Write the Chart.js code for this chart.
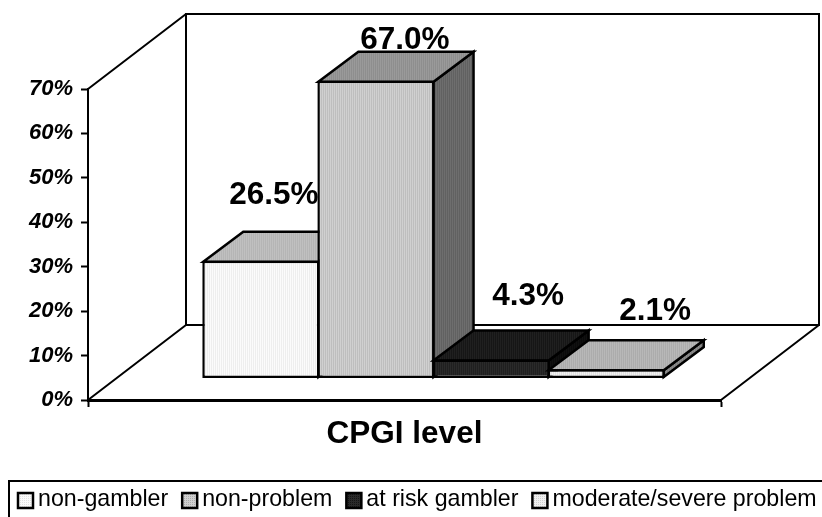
<!DOCTYPE html>
<html>
<head>
<meta charset="utf-8">
<title>CPGI level</title>
<script src="https://cdn.jsdelivr.net/npm/chart.js@4/dist/chart.umd.min.js"></script>
<style>
  html, body { margin: 0; padding: 0; background: #fff; overflow: hidden; }
  canvas { display: block; }
</style>
</head>
<body>
<canvas id="chart" width="822" height="517"></canvas>
<script>
const categories = ['CPGI level'];
const seriesNames = ['non-gambler', 'non-problem', 'at risk gambler', 'moderate/severe problem'];
const seriesValues = [26.5, 67.0, 4.3, 2.1];

// front / top / side shades of each column, [base, dither dot]
const frontShades = [['#fbfbfb', '#e2e2e2'], ['#d0d0d0', '#acacac'], ['#2a2a2a', '#141414'], ['#f0f0f0', '#d0d0d0']];
const topShades = [['#c0c0c0', '#aaaaaa'], ['#9a9a9a', '#828282'], ['#202020', '#0c0c0c'], ['#b8b8b8', '#a0a0a0']];
const sideShades = [['#6e6e6e', '#545454'], ['#6e6e6e', '#545454'], ['#101010', '#040404'], ['#8c8c8c', '#707070']];
// hand moved data labels in the original, px from the top centre of the column
const labelNudge = [[13, -65], [29, -41], [37, -63], [49, -58]];

const FONT = '"Liberation Sans", Arial, sans-serif';
const WALL = { x: 98, y: -75 };   // back wall offset from the front of the floor
const FLOOR = { x: 29, y: -21.5 };  // where the columns stand on the floor
const DEPTH = { x: 40, y: -30 };  // column depth

function stipple(shade) {
  const c = document.createElement('canvas');
  c.width = c.height = 4;
  const g = c.getContext('2d');
  g.fillStyle = shade[0];
  g.fillRect(0, 0, 4, 4);
  g.fillStyle = shade[1];
  g.fillRect(0, 0, 1, 1);
  g.fillRect(2, 2, 1, 1);
  g.fillRect(2, 0, 1, 1);
  g.fillRect(0, 2, 1, 1);
  return g.createPattern(c, 'repeat');
}

function poly(ctx, pts, fill) {
  ctx.beginPath();
  pts.forEach((p, i) => i ? ctx.lineTo(p[0], p[1]) : ctx.moveTo(p[0], p[1]));
  ctx.closePath();
  if (fill) { ctx.fillStyle = fill; ctx.fill(); }
  ctx.stroke();
}

const frontFills = frontShades.map(stipple);
const topFills = topShades.map(stipple);
const sideFills = sideShades.map(stipple);

const box3d = {
  id: 'box3d',
  beforeDraw(chart) {
    const { ctx, chartArea: a } = chart;
    ctx.save();
    ctx.strokeStyle = '#000';
    ctx.lineWidth = 2;
    ctx.fillStyle = '#fff';
    ctx.fillRect(a.left + WALL.x, a.top + WALL.y, a.width, a.height);
    ctx.strokeRect(a.left + WALL.x, a.top + WALL.y, a.width, a.height);
    ctx.beginPath();
    ctx.moveTo(a.left, a.top);
    ctx.lineTo(a.left + WALL.x, a.top + WALL.y);
    ctx.moveTo(a.left, a.bottom);
    ctx.lineTo(a.left + WALL.x, a.bottom + WALL.y);
    ctx.moveTo(a.right, a.bottom);
    ctx.lineTo(a.right + WALL.x, a.bottom + WALL.y);
    ctx.stroke();
    ctx.restore();
  },
  // columns go left to right so that each one covers the side of the one before
  beforeDatasetsDraw(chart) {
    const { ctx } = chart;
    ctx.save();
    ctx.translate(FLOOR.x, FLOOR.y);
    ctx.strokeStyle = '#000';
    ctx.lineWidth = 2.5;
    ctx.lineJoin = 'miter';
    seriesValues.forEach((v, i) => {
      const bar = chart.getDatasetMeta(i).data[0];
      const l = bar.x - bar.width / 2, r = bar.x + bar.width / 2, t = bar.y, b = bar.base;
      poly(ctx, [[r - 1, b - 1], [r - 1 + DEPTH.x, b - 1 + DEPTH.y], [r - 1 + DEPTH.x, t + 1 + DEPTH.y], [r - 1, t + 1]], sideFills[i]);
      poly(ctx, [[l + 1, t + 1], [l + 1 + DEPTH.x, t + 1 + DEPTH.y], [r - 1 + DEPTH.x, t + 1 + DEPTH.y], [r - 1, t + 1]], topFills[i]);
      bar.draw(ctx);
    });
    ctx.restore();

    ctx.save();
    ctx.fillStyle = '#000';
    ctx.font = 'bold 31.5px ' + FONT;
    ctx.textAlign = 'center';
    ctx.textBaseline = 'middle';
    seriesValues.forEach((v, i) => {
      const bar = chart.getDatasetMeta(i).data[0];
      ctx.fillText(v.toFixed(1) + '%', bar.x + FLOOR.x + labelNudge[i][0], bar.y + FLOOR.y + labelNudge[i][1]);
    });
    ctx.restore();
    return false;
  },
  afterDraw(chart) {
    const { ctx } = chart;
    ctx.save();
    ctx.strokeStyle = '#000';
    ctx.lineWidth = 2;
    ctx.strokeRect(9, 481, 900, 100);  // frame runs off the picture
    ctx.font = '23.2px ' + FONT;
    ctx.textBaseline = 'middle';
    let x = 18;
    seriesNames.forEach((name, i) => {
      ctx.lineWidth = 2.5;
      ctx.fillStyle = frontFills[i];
      ctx.fillRect(x, 493, 15, 15);
      ctx.strokeRect(x, 493, 15, 15);
      ctx.fillStyle = '#000';
      ctx.fillText(name, x + 20, 500);
      x += 20 + ctx.measureText(name).width + 14;
    });
    ctx.restore();
  }
};

new Chart(document.getElementById('chart'), {
  type: 'bar',
  data: {
    labels: categories,
    datasets: seriesNames.map((name, i) => ({
      label: name,
      data: [seriesValues[i]],
      backgroundColor: frontFills[i],
      borderColor: '#000',
      borderWidth: 2.5,
      borderSkipped: false,
      clip: false
    }))
  },
  options: {
    responsive: false,
    animation: false,
    categoryPercentage: 0.7273,
    barPercentage: 1.018,
    layout: { padding: { top: 89, right: 101, left: 0, bottom: 0 } },
    plugins: { legend: { display: false }, tooltip: { enabled: false } },
    scales: {
      x: {
        afterFit(scale) { scale.height = 117; },
        grid: { drawOnChartArea: false, tickLength: 7, tickWidth: 2, tickColor: '#000' },
        border: { color: '#000', width: 3 },
        ticks: { display: false },
        title: {
          display: true,
          text: 'CPGI level',
          color: '#000',
          font: { family: FONT, size: 31.5, weight: 'bold' },
          padding: { top: 12, bottom: 64 }
        }
      },
      y: {
        min: 0,
        max: 70,
        afterFit(scale) { scale.width = 88; },
        grid: { drawOnChartArea: false, tickLength: 7, tickWidth: 2, tickColor: '#000' },
        border: { color: '#000', width: 2 },
        ticks: {
          stepSize: 10,
          padding: 8,
          color: '#000',
          font: { family: FONT, size: 22, weight: 'bold', style: 'italic' },
          callback: v => v + '%'
        }
      }
    }
  },
  plugins: [box3d]
});
</script>
</body>
</html>
